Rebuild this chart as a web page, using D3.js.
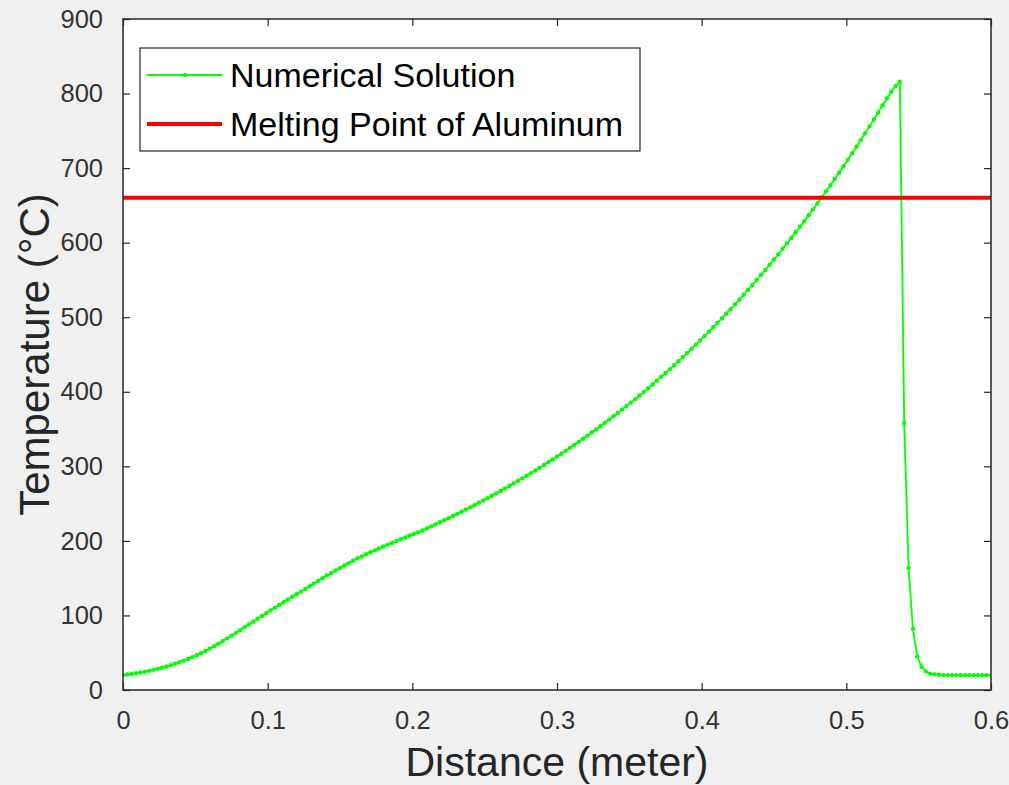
<!DOCTYPE html>
<html>
<head>
<meta charset="utf-8">
<script src="https://cdn.jsdelivr.net/npm/d3@7"></script>
<style>
  html, body { margin: 0; padding: 0; background: #f0f0f0; }
  svg { display: block; }
  text { font-family: "Liberation Sans", Arial, Helvetica, sans-serif; }
</style>
</head>
<body>
<svg id="chart" width="1009" height="785"></svg>
<script>
// ---- Data ----
const distance = [
  0.000,0.003,0.006,0.009,0.012,0.015,0.018,0.021,0.024,0.027,
  0.030,0.033,0.036,0.039,0.042,0.045,0.048,0.051,0.054,0.057,
  0.060,0.063,0.066,0.069,0.072,0.075,0.078,0.081,0.084,0.087,
  0.090,0.093,0.096,0.099,0.102,0.105,0.108,0.111,0.114,0.117,
  0.120,0.123,0.126,0.129,0.132,0.135,0.138,0.141,0.144,0.147,
  0.150,0.153,0.156,0.159,0.162,0.165,0.168,0.171,0.174,0.177,
  0.180,0.183,0.186,0.189,0.192,0.195,0.198,0.201,0.204,0.207,
  0.210,0.213,0.216,0.219,0.222,0.225,0.228,0.231,0.234,0.237,
  0.240,0.243,0.246,0.249,0.252,0.255,0.258,0.261,0.264,0.267,
  0.270,0.273,0.276,0.279,0.282,0.285,0.288,0.291,0.294,0.297,
  0.300,0.303,0.306,0.309,0.312,0.315,0.318,0.321,0.324,0.327,
  0.330,0.333,0.336,0.339,0.342,0.345,0.348,0.351,0.354,0.357,
  0.360,0.363,0.366,0.369,0.372,0.375,0.378,0.381,0.384,0.387,
  0.390,0.393,0.396,0.399,0.402,0.405,0.408,0.411,0.414,0.417,
  0.420,0.423,0.426,0.429,0.432,0.435,0.438,0.441,0.444,0.447,
  0.450,0.453,0.456,0.459,0.462,0.465,0.468,0.471,0.474,0.477,
  0.480,0.483,0.486,0.489,0.492,0.495,0.498,0.501,0.504,0.507,
  0.510,0.513,0.516,0.519,0.522,0.525,0.528,0.531,0.534,0.537,
  0.540,0.543,0.546,0.549,0.552,0.555,0.558,0.561,0.564,0.567,
  0.570,0.573,0.576,0.579,0.582,0.585,0.588,0.591,0.594,0.597,
  0.600
];
const temperature = [
  20,20.7,21.5,22.4,23.4,24.5,25.7,27.0,28.4,29.9,
  31.5,33.3,35.2,37.2,39.4,41.7,44.1,46.7,49.5,52.4,
  55.5,58.8,62.2,65.7,69.3,72.9,76.6,80.3,84.1,87.9,
  91.7,95.5,99.3,103.1,106.8,110.5,114.2,117.8,121.4,125.0,
  128.5,132.0,135.6,139.2,142.8,146.4,150.0,153.5,157.0,160.4,
  163.7,167.0,170.2,173.3,176.3,179.2,182.0,184.7,187.3,189.9,
  192.4,194.9,197.3,199.7,202.1,204.5,206.8,209.1,211.5,214.0,
  216.6,219.5,222.2,224.9,227.7,230.5,233.3,236.2,239.1,242.1,
  245.0,248.1,251.1,254.2,257.4,260.5,263.7,267.0,270.3,273.6,
  277.0,280.4,283.9,287.4,290.9,294.5,298.1,301.8,305.5,309.3,
  313.1,316.9,320.8,324.8,328.8,332.8,336.9,341.1,345.3,349.5,
  353.8,358.2,362.6,367.1,371.6,376.2,380.8,385.5,390.2,395.0,
  399.9,404.8,409.8,414.9,420.0,425.2,430.4,435.7,441.1,446.5,
  452.0,457.6,463.2,468.9,474.7,480.6,486.5,492.5,498.5,504.7,
  510.9,517.2,523.6,530.0,536.6,543.2,549.9,556.6,563.5,570.4,
  577.5,584.6,591.8,599.1,606.4,613.9,621.5,629.1,636.9,644.7,
  652.7,660.7,668.8,677.1,685.4,693.9,702.4,711.1,719.8,728.7,
  737.7,746.8,756.0,765.3,774.7,784.2,793.5,802.0,810.0,816.0,
  358,164,82,45,31,25,22,21,20.5,20,
  20,20,20,20,20,20,20,20,20,20,
  20
];
const meltingPoint = 660.3;
const xTicks = [0, 0.1, 0.2, 0.3, 0.4, 0.5, 0.6];
const yTicks = [0, 100, 200, 300, 400, 500, 600, 700, 800, 900];
const seriesNames = ["Numerical Solution", "Melting Point of Aluminum"];
const xLabel = "Distance (meter)";
const yLabel = "Temperature (°C)";

(function () {
  const svg = d3.select("#chart");
  const pL = 123, pR = 991, pT = 19, pB = 690;
  const axisColor = "#262626";

  const x = d3.scaleLinear().domain([0, 0.6]).range([pL, pR]);
  const y = d3.scaleLinear().domain([0, 900]).range([pB, pT]);

  svg.append("rect")
    .attr("x", pL).attr("y", pT)
    .attr("width", pR - pL).attr("height", pB - pT)
    .attr("fill", "#ffffff");

  svg.append("clipPath").attr("id", "plotclip").append("rect")
    .attr("x", pL).attr("y", pT).attr("width", pR - pL).attr("height", pB - pT);
  const plot = svg.append("g").attr("clip-path", "url(#plotclip)");

  const data = distance.map((d, i) => ({ x: d, t: temperature[i] }));

  plot.append("path")
    .datum(data)
    .attr("fill", "none")
    .attr("stroke", "#00ff00")
    .attr("stroke-width", 1.8)
    .attr("d", d3.line().x(d => x(d.x)).y(d => y(d.t)));

  plot.selectAll("circle.pt")
    .data(data)
    .enter().append("circle")
    .attr("class", "pt")
    .attr("cx", d => x(d.x))
    .attr("cy", d => y(d.t))
    .attr("r", 2.2)
    .attr("fill", "#00ff00");

  plot.append("line")
    .attr("x1", x(0)).attr("x2", x(0.6))
    .attr("y1", y(meltingPoint)).attr("y2", y(meltingPoint))
    .attr("stroke", "#ff0000")
    .attr("stroke-width", 4);

  const tickSize = 7;
  const fontSize = 25.5;

  const axBottom = d3.axisBottom(x).tickValues(xTicks).tickSizeInner(-tickSize).tickSizeOuter(0)
    .tickPadding(tickSize + 14).tickFormat(d => d === 0 ? "0" : d3.format(".1f")(d));
  const axTop = d3.axisTop(x).tickValues(xTicks).tickSizeInner(-tickSize).tickSizeOuter(0).tickFormat("");
  const axLeft = d3.axisLeft(y).tickValues(yTicks).tickSizeInner(-tickSize).tickSizeOuter(0)
    .tickPadding(tickSize + 13).tickFormat(d3.format("d"));
  const axRight = d3.axisRight(y).tickValues(yTicks).tickSizeInner(-tickSize).tickSizeOuter(0).tickFormat("");

  function styleAxis(g) {
    g.select(".domain").remove();
    g.selectAll("line").attr("stroke", axisColor).attr("stroke-width", 1.2);
    g.selectAll("text").attr("fill", "#333333").attr("font-size", fontSize)
      .attr("font-family", "'Liberation Sans', Arial, sans-serif");
  }

  svg.append("g").attr("transform", `translate(0,${pB})`).call(axBottom).call(styleAxis);
  svg.append("g").attr("transform", `translate(0,${pT})`).call(axTop).call(styleAxis);
  svg.append("g").attr("transform", `translate(${pL},0)`).call(axLeft).call(styleAxis);
  svg.append("g").attr("transform", `translate(${pR},0)`).call(axRight).call(styleAxis);

  svg.append("rect")
    .attr("x", pL).attr("y", pT)
    .attr("width", pR - pL).attr("height", pB - pT)
    .attr("fill", "none").attr("stroke", axisColor).attr("stroke-width", 1.5);

  svg.append("text")
    .attr("x", (pL + pR) / 2).attr("y", 776)
    .attr("text-anchor", "middle")
    .attr("font-size", 41).attr("fill", axisColor)
    .text(xLabel);

  svg.append("text")
    .attr("transform", `translate(49,${(pT + pB) / 2}) rotate(-90)`)
    .attr("text-anchor", "middle")
    .attr("font-size", 42).attr("fill", axisColor)
    .text(yLabel);

  const lg = svg.append("g");
  lg.append("rect")
    .attr("x", 140).attr("y", 48).attr("width", 500).attr("height", 103)
    .attr("fill", "#ffffff").attr("stroke", axisColor).attr("stroke-width", 1.2);

  const rows = [
    { name: seriesNames[0], color: "#00ff00", width: 1.8, marker: true, cy: 75 },
    { name: seriesNames[1], color: "#ff0000", width: 4, marker: false, cy: 124 }
  ];
  rows.forEach(r => {
    lg.append("line")
      .attr("x1", 147).attr("x2", 222).attr("y1", r.cy).attr("y2", r.cy)
      .attr("stroke", r.color).attr("stroke-width", r.width);
    if (r.marker) {
      lg.append("circle").attr("cx", 185).attr("cy", r.cy).attr("r", 2.2).attr("fill", r.color);
    }
    lg.append("text")
      .attr("x", 230).attr("y", r.cy)
      .attr("dy", "0.35em")
      .attr("font-size", 34).attr("fill", "#000000")
      .text(r.name);
  });
})();
</script>
</body>
</html>
